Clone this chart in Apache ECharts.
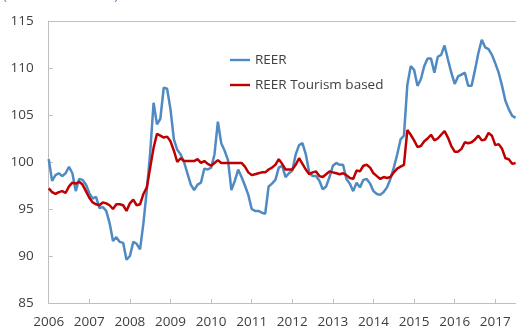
<!DOCTYPE html>
<html>
<head>
<meta charset="utf-8">
<script src="https://cdn.jsdelivr.net/npm/echarts@6/dist/echarts.min.js"></script>
<style>
  html, body { margin: 0; padding: 0; background: #fff; }
  #chart { width: 516px; height: 329px; }
</style>
</head>
<body>
<div id="chart"></div>
<script>
// Monthly real effective exchange rates, Jan 2006 - Jul 2017 (Index 2010 = 100)
const years = ['2006','2007','2008','2009','2010','2011','2012','2013','2014','2015','2016','2017'];
const lastYearMonths = 7;

const reer = [
  100.3, 98.0, 98.6, 98.8, 98.5, 98.8, 99.5, 98.8, 96.9, 98.2, 98.1, 97.6,
  96.7, 96.1, 96.3, 95.1, 95.2, 94.8, 93.5, 91.6, 92.0, 91.5, 91.4, 89.6,
  90.0, 91.5, 91.3, 90.7, 93.5, 97.0, 101.0, 106.3, 104.0, 104.6, 107.9, 107.8,
  105.6, 102.4, 101.3, 100.8, 100.0, 98.8, 97.6, 97.0, 97.6, 97.8, 99.3, 99.2,
  99.4, 100.8, 104.3, 102.0, 101.2, 100.2, 97.0, 98.0, 99.2, 98.4, 97.5, 96.5,
  95.0, 94.8, 94.8, 94.6, 94.5, 97.4, 97.7, 98.1, 99.4, 99.6, 98.4, 98.8,
  99.1, 100.8, 101.8, 102.0, 100.8, 98.9, 98.5, 98.5, 98.0, 97.1, 97.4, 98.4,
  99.6, 99.9, 99.7, 99.7, 98.2, 97.7, 96.9, 97.8, 97.3, 98.1, 98.2, 97.7,
  96.9, 96.6, 96.5, 96.8, 97.3, 98.2, 99.4, 100.8, 102.4, 102.8, 108.2, 110.2,
  109.8, 108.1, 108.8, 110.2, 111.0, 111.0, 109.5, 111.2, 111.4, 112.4, 110.9, 109.5,
  108.3, 109.1, 109.3, 109.5, 108.1, 108.1, 109.8, 111.6, 113.0, 112.2, 112.0, 111.4,
  110.5, 109.5, 108.1, 106.5, 105.6, 104.9, 104.7
];

const reerTourism = [
  97.2, 96.8, 96.6, 96.8, 96.9, 96.7, 97.4, 97.8, 97.7, 97.9, 97.6, 96.9,
  96.2, 95.7, 95.5, 95.4, 95.7, 95.6, 95.4, 95.0, 95.5, 95.5, 95.4, 94.8,
  95.6, 96.0, 95.4, 95.5, 96.6, 97.3, 99.4, 101.5, 103.0, 102.8, 102.6, 102.7,
  102.2, 101.2, 100.0, 100.4, 100.1, 100.1, 100.1, 100.1, 100.3, 99.9, 100.1, 99.8,
  99.6, 99.9, 100.2, 99.9, 99.9, 99.9, 99.9, 99.9, 99.9, 99.9, 99.5, 98.9,
  98.6, 98.7, 98.8, 98.9, 98.9, 99.2, 99.4, 99.7, 100.3, 99.8, 99.2, 99.2,
  99.2, 99.7, 100.4, 99.8, 99.2, 98.7, 98.9, 99.0, 98.5, 98.4, 98.7, 99.0,
  98.9, 98.8, 98.7, 98.8, 98.6, 98.3, 98.2, 99.1, 99.0, 99.6, 99.7, 99.4,
  98.8, 98.5, 98.2, 98.4, 98.3, 98.4, 98.9, 99.3, 99.5, 99.7, 103.4, 102.9,
  102.3, 101.6, 101.7, 102.2, 102.5, 102.9, 102.3, 102.5, 102.9, 103.3, 102.6, 101.7,
  101.1, 101.1, 101.4, 102.1, 102.0, 102.1, 102.4, 102.8, 102.3, 102.4, 103.1, 102.8,
  101.8, 101.9, 101.4, 100.4, 100.3, 99.8, 99.9
];

// Month categories built from the year list
const months = [];
years.forEach((y, yi) => {
  const n = yi === years.length - 1 ? lastYearMonths : 12;
  for (let m = 1; m <= n; m++) months.push(y + '-' + String(m).padStart(2, '0'));
});

const font = '"Open Sans", "Noto Sans", sans-serif';
const axisGrey = '#bfbfbf';
const textGrey = '#404040';

const chart = echarts.init(document.getElementById('chart'), null, { renderer: 'canvas' });

chart.setOption({
  animation: false,
  backgroundColor: '#ffffff',
  grid: { left: 48.7, top: 21, right: 0.4, bottom: 25, containLabel: false },
  graphic: [{
    type: 'text',
    left: 3,
    top: -11,
    style: { text: '(Index 2010 = 100)', fill: '#5b8fc8', font: '13.5px ' + font }
  }],
  legend: {
    orient: 'vertical',
    left: 225,
    top: 48,
    itemWidth: 20,
    itemHeight: 10,
    itemGap: 11,
    icon: 'path://M0,4 L20,4 L20,6.4 L0,6.4 Z',
    textStyle: { color: textGrey, fontSize: 13.5, fontFamily: font },
    data: ['REER', 'REER Tourism based']
  },
  xAxis: [{
    type: 'category',
    data: months,
    boundaryGap: false,
    axisLine: { lineStyle: { color: axisGrey, width: 1 } },
    axisTick: { show: true, inside: true, length: 4, interval: (i) => i % 12 === 0, lineStyle: { color: axisGrey } },
    axisLabel: {
      interval: (i) => i % 12 === 0,
      formatter: (v) => v.slice(0, 4),
      color: textGrey, fontSize: 13.5, fontFamily: font, margin: 12
    },
    splitLine: { show: false }
  }, {
    type: 'category',
    data: months,
    position: 'top',
    boundaryGap: false,
    axisLine: { lineStyle: { color: axisGrey, width: 1 } },
    axisTick: { show: false },
    axisLabel: { show: false },
    splitLine: { show: false }
  }],
  yAxis: {
    type: 'value',
    min: 85,
    max: 115,
    interval: 5,
    axisLine: { show: true, lineStyle: { color: axisGrey, width: 1 } },
    axisTick: { show: true, inside: true, length: 4, lineStyle: { color: axisGrey } },
    axisLabel: { color: textGrey, fontSize: 13.5, fontFamily: font, margin: 15 },
    splitLine: { show: false }
  },
  series: [{
    name: 'REER',
    type: 'line',
    data: reer,
    showSymbol: false,
    symbol: 'none',
    lineStyle: { color: '#4f8ac3', width: 2.5 },
    itemStyle: { color: '#4f8ac3' },
    z: 2
  }, {
    name: 'REER Tourism based',
    type: 'line',
    data: reerTourism,
    showSymbol: false,
    symbol: 'none',
    lineStyle: { color: '#c00000', width: 2.5 },
    itemStyle: { color: '#c00000' },
    z: 3
  }]
});
</script>
</body>
</html>
